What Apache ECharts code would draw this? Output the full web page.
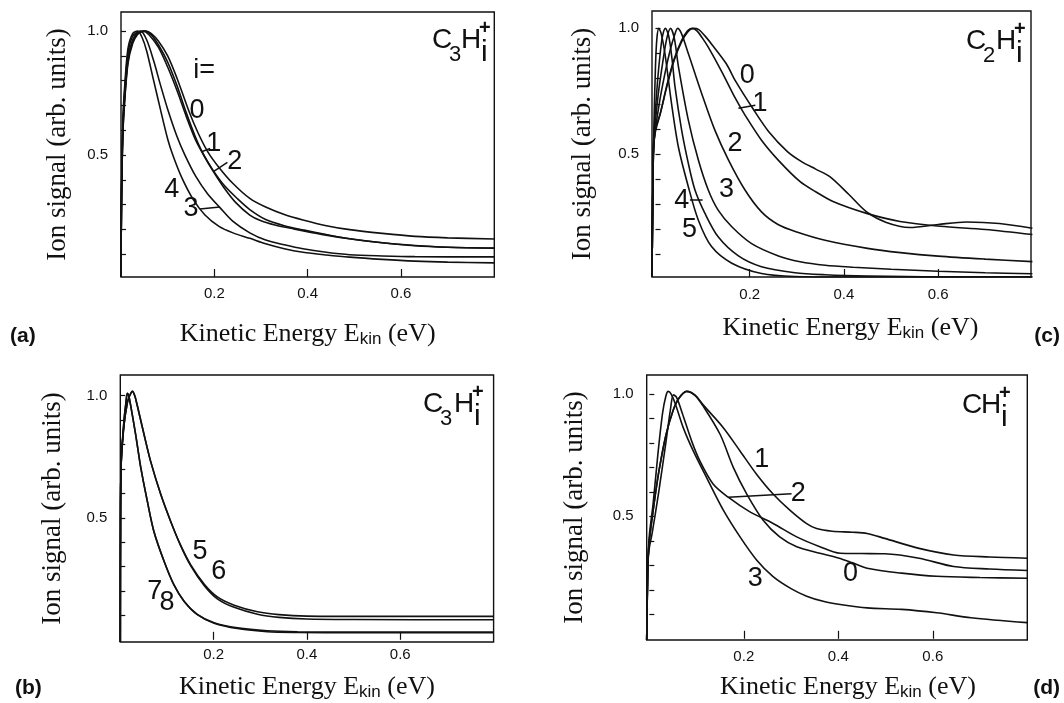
<!DOCTYPE html>
<html>
<head>
<meta charset="utf-8">
<script src="https://cdn.jsdelivr.net/npm/echarts@6.0.0/dist/echarts.min.js"></script>
<style>
  html, body { margin: 0; padding: 0; background: #fff; }
  #chart { width: 1064px; height: 703px; }
</style>
</head>
<body>
<div id="chart"></div>
<script>
// (a) C3Hi+, i = 0..4
const a0 = [[0,0.008],[0.001,0.3],[0.004,0.58],[0.008,0.72],[0.015,0.87],[0.025,0.95],[0.035,0.985],[0.045,0.998],[0.054,1.0],[0.065,0.99],[0.08,0.96],[0.10,0.9],[0.12,0.81],[0.145,0.68],[0.165,0.59],[0.186,0.513],[0.21,0.45],[0.24,0.385],[0.276,0.325],[0.31,0.29],[0.35,0.26],[0.39,0.238],[0.44,0.215],[0.49,0.199],[0.56,0.184],[0.63,0.172],[0.7,0.166],[0.8,0.161]];
const a1 = [[0,0.008],[0.001,0.3],[0.004,0.59],[0.008,0.73],[0.015,0.88],[0.025,0.96],[0.035,0.99],[0.05,1.0],[0.065,0.985],[0.08,0.945],[0.10,0.875],[0.12,0.78],[0.14,0.67],[0.158,0.58],[0.174,0.513],[0.195,0.445],[0.22,0.38],[0.25,0.323],[0.276,0.28],[0.31,0.24],[0.35,0.215],[0.39,0.198],[0.44,0.179],[0.49,0.162],[0.56,0.146],[0.63,0.134],[0.7,0.128],[0.8,0.125]];
const a2 = [[0,0.008],[0.001,0.3],[0.004,0.6],[0.008,0.74],[0.015,0.89],[0.025,0.965],[0.035,0.993],[0.048,1.0],[0.06,0.985],[0.08,0.935],[0.10,0.855],[0.12,0.76],[0.14,0.655],[0.16,0.56],[0.18,0.49],[0.198,0.433],[0.22,0.37],[0.245,0.31],[0.276,0.258],[0.30,0.235],[0.33,0.218],[0.37,0.202],[0.43,0.18],[0.49,0.162],[0.56,0.146],[0.63,0.135],[0.7,0.128],[0.8,0.124]];
const a3 = [[0,0.008],[0.001,0.32],[0.004,0.62],[0.008,0.76],[0.015,0.91],[0.025,0.98],[0.042,1.0],[0.055,0.965],[0.07,0.88],[0.085,0.78],[0.10,0.685],[0.12,0.575],[0.137,0.5],[0.16,0.415],[0.185,0.345],[0.212,0.288],[0.24,0.232],[0.276,0.186],[0.31,0.157],[0.35,0.138],[0.39,0.122],[0.44,0.108],[0.49,0.098],[0.56,0.093],[0.63,0.09],[0.8,0.089]];
const a4 = [[0,0.008],[0.001,0.33],[0.004,0.64],[0.008,0.78],[0.015,0.93],[0.025,0.99],[0.036,1.0],[0.045,0.975],[0.055,0.92],[0.07,0.8],[0.085,0.68],[0.10,0.565],[0.111,0.5],[0.13,0.41],[0.155,0.32],[0.18,0.258],[0.21,0.212],[0.24,0.186],[0.276,0.164],[0.31,0.142],[0.35,0.122],[0.39,0.108],[0.44,0.097],[0.49,0.088],[0.56,0.079],[0.63,0.072],[0.7,0.068],[0.8,0.065]];
const aLabels = [[0.178,0.839,'i='],[0.163,0.681,'0'],[0.199,0.548,'1'],[0.244,0.472,'2'],[0.109,0.359,'4'],[0.15,0.286,'3']];
const aPointers = [[[0.173,0.513],[0.191,0.527]],[[0.198,0.433],[0.228,0.47]],[[0.169,0.282],[0.212,0.29]]];

// (b) C3Hi+, i = 5..8
const b5 = [[0,-0.009],[0.0005,0.5],[0.002,0.73],[0.008,0.88],[0.015,0.97],[0.02,1.0],[0.026,1.018],[0.031,1.0],[0.036,0.963],[0.051,0.84],[0.065,0.731],[0.087,0.594],[0.108,0.485],[0.129,0.389],[0.151,0.307],[0.18,0.228],[0.208,0.176],[0.244,0.142],[0.294,0.115],[0.34,0.103],[0.4,0.097],[0.5,0.096],[0.8,0.096]];
const b6 = [[0,-0.009],[0.0005,0.5],[0.002,0.73],[0.008,0.88],[0.015,0.97],[0.02,1.0],[0.026,1.018],[0.031,1.0],[0.036,0.963],[0.051,0.84],[0.065,0.731],[0.087,0.594],[0.108,0.485],[0.129,0.387],[0.151,0.303],[0.18,0.222],[0.208,0.168],[0.244,0.133],[0.294,0.105],[0.34,0.092],[0.4,0.085],[0.5,0.083],[0.8,0.082]];
const b7 = [[0,-0.009],[0.0005,0.5],[0.002,0.73],[0.008,0.9],[0.012,0.97],[0.015,1.01],[0.018,1.0],[0.022,0.963],[0.033,0.84],[0.044,0.704],[0.058,0.567],[0.072,0.444],[0.094,0.321],[0.115,0.225],[0.137,0.157],[0.165,0.104],[0.201,0.07],[0.251,0.049],[0.315,0.037],[0.38,0.033],[0.5,0.032],[0.8,0.032]];
const b8 = [[0,-0.009],[0.0005,0.5],[0.002,0.73],[0.008,0.9],[0.012,0.97],[0.015,1.01],[0.018,1.0],[0.022,0.963],[0.033,0.84],[0.044,0.704],[0.058,0.567],[0.072,0.444],[0.094,0.321],[0.115,0.225],[0.137,0.157],[0.165,0.103],[0.201,0.068],[0.251,0.046],[0.315,0.033],[0.38,0.03],[0.5,0.029],[0.8,0.029]];
const bLabels = [[0.171,0.362,'5'],[0.211,0.281,'6'],[0.074,0.199,'7'],[0.1,0.154,'8']];
const bPointers = [];

// (c) C2Hi+, i = 0..5
const c0 = [[-0.0074,0.011],[-0.006,0.3],[-0.004,0.52],[0.0,0.6],[0.01,0.66],[0.025,0.775],[0.04,0.875],[0.055,0.945],[0.068,0.985],[0.08,1.0],[0.092,0.995],[0.105,0.97],[0.12,0.935],[0.15,0.86],[0.17,0.79],[0.207,0.68],[0.24,0.59],[0.28,0.51],[0.31,0.47],[0.34,0.44],[0.37,0.41],[0.41,0.34],[0.448,0.27],[0.49,0.228],[0.54,0.208],[0.6,0.22],[0.66,0.23],[0.73,0.224],[0.8,0.205]];
const c1 = [[-0.0074,0.011],[-0.006,0.3],[-0.004,0.52],[0.0,0.59],[0.01,0.66],[0.025,0.78],[0.04,0.88],[0.055,0.95],[0.068,0.99],[0.078,1.0],[0.088,0.99],[0.1,0.96],[0.112,0.925],[0.14,0.83],[0.17,0.72],[0.19,0.655],[0.225,0.555],[0.261,0.475],[0.307,0.39],[0.34,0.35],[0.378,0.31],[0.448,0.264],[0.519,0.232],[0.604,0.213],[0.7,0.2],[0.8,0.18]];
const c2 = [[-0.0074,0.011],[-0.006,0.3],[-0.004,0.53],[0.008,0.7],[0.02,0.82],[0.032,0.92],[0.04,0.97],[0.047,1.0],[0.055,0.98],[0.0697,0.9],[0.098,0.741],[0.126,0.595],[0.155,0.476],[0.19,0.357],[0.225,0.27],[0.26,0.22],[0.3,0.19],[0.36,0.157],[0.45,0.125],[0.52,0.108],[0.6,0.094],[0.7,0.082],[0.8,0.072]];
const c3 = [[-0.0074,0.011],[-0.006,0.3],[-0.004,0.54],[0.006,0.74],[0.015,0.86],[0.024,0.96],[0.032,1.0],[0.04,0.96],[0.0485,0.85],[0.0697,0.635],[0.091,0.476],[0.112,0.357],[0.133,0.277],[0.162,0.211],[0.204,0.144],[0.261,0.095],[0.307,0.072],[0.36,0.058],[0.42,0.05],[0.5,0.042],[0.6,0.034],[0.7,0.028],[0.8,0.024]];
const c4 = [[-0.0074,0.011],[-0.006,0.3],[-0.004,0.55],[0.004,0.78],[0.01,0.9],[0.015,0.97],[0.021,1.0],[0.028,0.97],[0.035,0.88],[0.0414,0.768],[0.0555,0.595],[0.0697,0.463],[0.0838,0.357],[0.105,0.264],[0.133,0.171],[0.176,0.095],[0.225,0.052],[0.296,0.028],[0.36,0.02],[0.45,0.015],[0.6,0.012],[0.8,0.012]];
const c5 = [[-0.0074,0.011],[-0.006,0.3],[-0.004,0.56],[0.0,0.85],[0.003,0.96],[0.007,1.0],[0.012,0.98],[0.02,0.9],[0.034,0.702],[0.0485,0.529],[0.0697,0.37],[0.091,0.237],[0.119,0.132],[0.162,0.066],[0.225,0.025],[0.296,0.013],[0.4,0.011],[0.8,0.011]];
const cLabels = [[0.195,0.811,'0'],[0.222,0.699,'1'],[0.169,0.543,'2'],[0.151,0.357,'3'],[0.056,0.317,'4'],[0.072,0.201,'5']];
const cPointers = [[[0.176,0.682],[0.212,0.694]],[[0.073,0.317],[0.1,0.317]]];

// (d) CHi+, i = 0..3
const d0 = [[-0.0055,-0.005],[-0.003,0.3],[0.0,0.4],[0.01,0.55],[0.02,0.68],[0.035,0.83],[0.05,0.93],[0.062,0.98],[0.079,1.01],[0.097,0.993],[0.114,0.95],[0.15,0.834],[0.178,0.699],[0.206,0.592],[0.241,0.484],[0.276,0.416],[0.312,0.376],[0.361,0.349],[0.4,0.33],[0.43,0.31],[0.461,0.288],[0.534,0.268],[0.608,0.255],[0.7,0.25],[0.8,0.247]];
const d1 = [[-0.0055,-0.005],[-0.003,0.3],[0.0,0.4],[0.01,0.55],[0.02,0.68],[0.035,0.83],[0.05,0.93],[0.062,0.98],[0.079,1.01],[0.097,0.995],[0.114,0.955],[0.157,0.861],[0.192,0.767],[0.227,0.672],[0.262,0.591],[0.298,0.524],[0.333,0.47],[0.354,0.45],[0.387,0.439],[0.43,0.435],[0.461,0.43],[0.498,0.41],[0.571,0.369],[0.644,0.342],[0.72,0.334],[0.8,0.329]];
const d2 = [[-0.0055,-0.005],[-0.003,0.3],[0.0,0.37],[0.006,0.43],[0.02,0.6],[0.035,0.8],[0.045,0.94],[0.051,0.996],[0.058,0.985],[0.07,0.92],[0.0897,0.807],[0.107,0.726],[0.135,0.632],[0.167,0.578],[0.213,0.518],[0.262,0.471],[0.312,0.416],[0.361,0.376],[0.404,0.349],[0.45,0.348],[0.498,0.347],[0.571,0.329],[0.644,0.295],[0.72,0.285],[0.8,0.279]];
const d3 = [[-0.0055,-0.005],[-0.003,0.3],[0.0,0.42],[0.008,0.55],[0.018,0.75],[0.028,0.92],[0.035,0.99],[0.04,1.01],[0.046,1.0],[0.055,0.96],[0.072,0.861],[0.093,0.767],[0.121,0.659],[0.157,0.524],[0.192,0.416],[0.227,0.322],[0.262,0.254],[0.3,0.205],[0.333,0.174],[0.37,0.152],[0.404,0.14],[0.461,0.126],[0.534,0.12],[0.608,0.106],[0.681,0.086],[0.8,0.066]];
const dLabels = [[0.238,0.733,'1'],[0.315,0.592,'2'],[0.224,0.244,'3'],[0.426,0.268,'0']];
const dPointers = [[[0.167,0.578],[0.301,0.592]]];

const xTicks = [0.2, 0.4, 0.6];
const yTicks = [0.1, 0.2, 0.3, 0.4, 0.5, 0.6, 0.7, 0.8, 0.9, 1.0];
const yTickLabels = [0.5, 1.0];

const INK = '#111';
const numFont = '"Liberation Sans", sans-serif';

const panels = [
  { grid: {left: 121, top: 12, width: 373.3, height: 265}, x: [0, 0.8], y: [0.008, 1.077],
    curves: [a0, a1, a2, a3, a4], labels: aLabels, pointers: aPointers,
    xLabelMargin: 9, xNameGap: 42, yNameGap: 50, xNamePad: 0,
    species: {x: 432, y: 40, sub: '3', h: 29}, letter: {x: 10, y: 336, text: '(a)', align: 'left'} },
  { grid: {left: 120.3, top: 375, width: 373.3, height: 268}, x: [0, 0.8], y: [-0.009, 1.085],
    curves: [b5, b6, b7, b8], labels: bLabels, pointers: bPointers,
    xLabelMargin: 5, xNameGap: 30, yNameGap: 54, xNamePad: 0,
    species: {x: 423, y: 404, sub: '3', h: 31}, letter: {x: 15, y: 688, text: '(b)', align: 'left'} },
  { grid: {left: 652, top: 11, width: 379, height: 266}, x: [-0.0074, 0.797], y: [0.011, 1.069],
    curves: [c0, c1, c2, c3, c4, c5], labels: cLabels, pointers: cPointers,
    xLabelMargin: 10, xNameGap: 36, yNameGap: 56, xNamePad: 18,
    species: {x: 966, y: 41, sub: '2', h: 30}, letter: {x: 1060, y: 336, text: '(c)', align: 'right'} },
  { grid: {left: 646.7, top: 375, width: 380.6, height: 267.7}, x: [-0.0055, 0.8], y: [-0.005, 1.077],
    curves: [d0, d1, d2, d3], labels: dLabels, pointers: dPointers,
    xLabelMargin: 9, xNameGap: 32, yNameGap: 58, xNamePad: 22,
    species: {x: 962, y: 405, sub: '', h: 19}, letter: {x: 1060, y: 688, text: '(d)', align: 'right'} }
];

function speciesGraphic(s) {
  const t = (x, y, text, font) => ({
    type: 'text', x: x, y: y, silent: true,
    style: {text: text, font: font, fill: INK, align: 'left', verticalAlign: 'middle'}
  });
  const els = [t(s.x, s.y, 'C', '28px ' + numFont)];
  if (s.sub) els.push(t(s.x + 17, s.y + 15, s.sub, '22px ' + numFont));
  const hx = s.x + s.h;
  els.push(t(hx, s.y, 'H', '28px ' + numFont));
  els.push(t(hx + 18, s.y - 12, '+', 'bold 20px ' + numFont));
  els.push(t(hx + 20, s.y + 13, 'i', '30px ' + numFont));
  return els;
}

const option = {
  animation: false,
  backgroundColor: '#fff',
  grid: panels.map(p => Object.assign({show: true, borderColor: INK, borderWidth: 1.4, backgroundColor: 'transparent'}, p.grid)),
  xAxis: panels.map((p, i) => ({
    gridIndex: i, type: 'value', min: p.x[0], max: p.x[1],
    axisLine: {show: false}, splitLine: {show: false},
    axisTick: {inside: true, length: 8, customValues: xTicks, lineStyle: {color: INK, width: 1.2}},
    axisLabel: {customValues: xTicks, formatter: v => v.toFixed(1), margin: p.xLabelMargin,
      fontFamily: 'Liberation Sans', fontSize: 15, color: INK},
    name: 'Kinetic Energy E{k|kin} (eV)', nameLocation: 'middle', nameGap: p.xNameGap,
    nameTextStyle: {fontFamily: 'Liberation Serif', fontSize: 26, color: INK, lineHeight: 30,
      padding: [0, 0, 0, p.xNamePad],
      rich: {k: {fontFamily: 'Liberation Sans', fontSize: 17, lineHeight: 17, padding: [12, 0, 0, 0], verticalAlign: 'top', color: INK}}}
  })),
  yAxis: panels.map((p, i) => ({
    gridIndex: i, type: 'value', min: p.y[0], max: p.y[1],
    axisLine: {show: false}, splitLine: {show: false},
    axisTick: {inside: true, length: 5, customValues: yTicks, lineStyle: {color: INK, width: 1.2}},
    axisLabel: {customValues: yTickLabels, formatter: v => v.toFixed(1), margin: 13,
      fontFamily: 'Liberation Sans', fontSize: 15, color: INK},
    name: 'Ion signal (arb. units)', nameLocation: 'middle', nameGap: p.yNameGap,
    nameTextStyle: {fontFamily: 'Liberation Serif', fontSize: 27, color: INK}
  })),
  series: [],
  graphic: []
};

panels.forEach((p, i) => {
  p.curves.forEach(c => {
    option.series.push({
      type: 'line', xAxisIndex: i, yAxisIndex: i, data: c,
      smooth: 0.3, showSymbol: false, symbol: 'none', silent: true,
      lineStyle: {color: INK, width: 1.6}
    });
  });
  p.pointers.forEach(seg => {
    option.series.push({
      type: 'line', xAxisIndex: i, yAxisIndex: i, data: seg,
      showSymbol: false, symbol: 'none', silent: true,
      lineStyle: {color: INK, width: 1.5}
    });
  });
  option.series.push({
    type: 'scatter', xAxisIndex: i, yAxisIndex: i, data: p.labels,
    symbolSize: 1, itemStyle: {color: 'transparent', opacity: 1}, silent: true,
    label: {show: true, position: 'inside', formatter: d => d.value[2],
      fontFamily: numFont, fontSize: 27, color: INK}
  });
  option.graphic.push(...speciesGraphic(p.species));
  option.graphic.push({
    type: 'text', x: p.letter.x, y: p.letter.y, silent: true,
    style: {text: p.letter.text, font: 'bold 21px "Liberation Sans", sans-serif', fill: INK,
      align: p.letter.align, verticalAlign: 'middle'}
  });
});

const chart = echarts.init(document.getElementById('chart'), null, {renderer: 'canvas'});
chart.setOption(option);
window.onresize = chart.resize;
</script>
</body>
</html>
